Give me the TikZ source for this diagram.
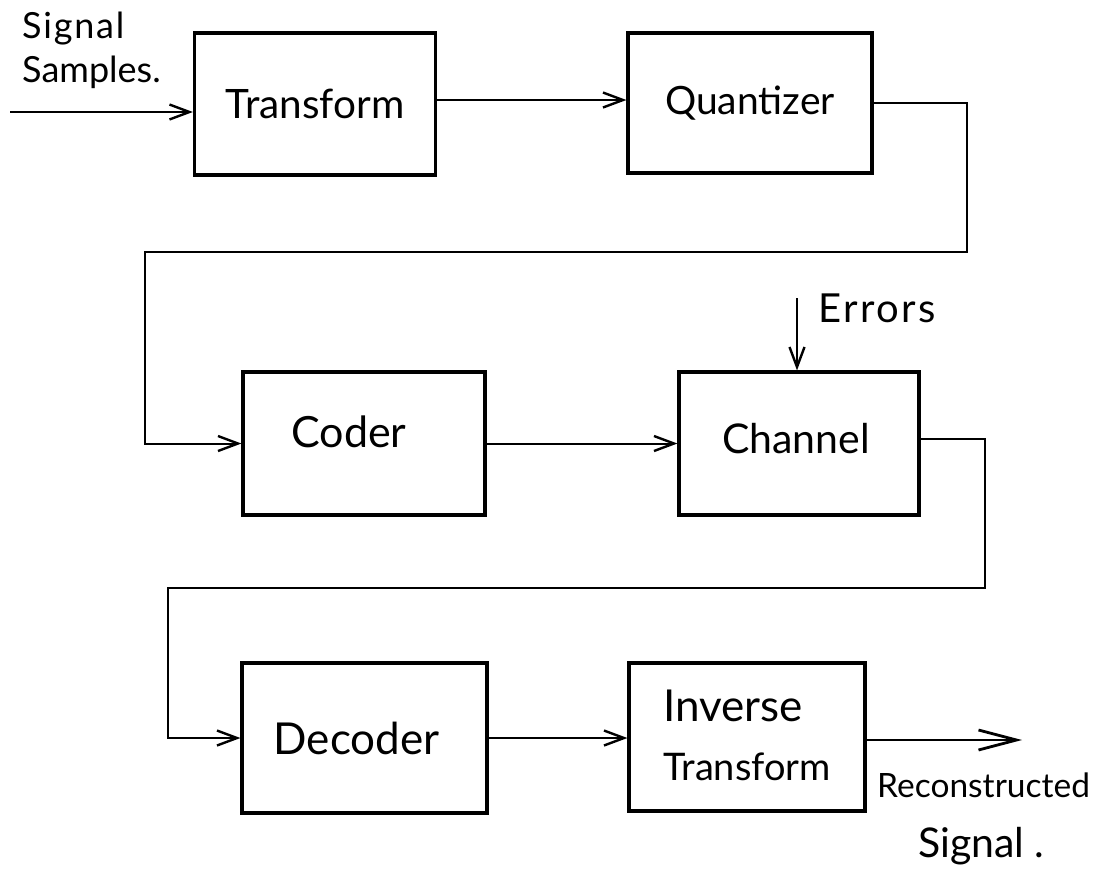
\documentclass[tikz,border=0pt]{standalone}
\usepackage{fontspec}
\setmainfont{Lato}
\usetikzlibrary{arrows.meta}
\newcommand{\fsz}[1]{\fontsize{#1}{#1}\selectfont}
\begin{document}
\begin{tikzpicture}[x=1pt,y=-1pt,
  blk/.style={draw, line width=3.2pt, inner sep=0pt},
  wire/.style={line width=2pt},
  arr/.style={wire, -{Straight Barb[length=20pt,width=15pt,line width=2.4pt]}},
  bigarr/.style={wire, -{Straight Barb[length=38pt,width=20pt,line width=2.8pt]}},
  lbl/.style={inner sep=0pt, anchor=base west}]
\useasboundingbox (0,0) rectangle (1118,876);
\fill[white] (0,0) rectangle (1118,876);

% blocks
\node[blk, minimum width=241pt, minimum height=142pt] (tr) at (315,104)
  {\fsz{40.5}Transform};
\node[blk, minimum width=244pt, minimum height=140pt] (qz) at (750,103)
  {\fsz{39}Quantizer};
\node[blk, minimum width=242pt, minimum height=143pt] (cd) at (364,443.5)
  {\raisebox{24pt}{\fsz{43}Coder}\hspace*{30pt}};
\node[blk, minimum width=240pt, minimum height=143pt] (ch) at (799,443.5)
  {\raisebox{10pt}{\fsz{41}Channel}\hspace*{6pt}};
\node[blk, minimum width=245pt, minimum height=150pt] (dc) at (364.5,738)
  {\fsz{44}Decoder\hspace*{16pt}};
\node[blk, minimum width=236pt, minimum height=148pt] (iv) at (747,737)
  {\raisebox{6pt}{\begin{tabular}{@{}l@{}}
   \fsz{44}Inverse\\[27pt]
   \fsz{38}Transform
   \end{tabular}}};

% free ends and bends
\coordinate (in)  at (10,112);
\coordinate (err) at (797,298);
\coordinate (out) at (1022,740);
\coordinate (q1)  at (967,252);
\coordinate (q2)  at (145,252);
\coordinate (h1)  at (985,588);
\coordinate (h2)  at (168,588);

% labels
\node[lbl] (sig)  at (22,38)  {\fsz{36}\addfontfeature{LetterSpace=5}Signal};
\node[lbl] (smp)  at (22,82)  {\fsz{36}Samples.};
\node[lbl] (errs) at (818,322) {\fsz{40}\addfontfeature{LetterSpace=6}Errors};
\node[lbl] (rec)  at (877,797) {\fsz{33.5}Reconstructed};
\node[lbl] (osig) at (918,857) {\fsz{41}Signal .};

% connectors
\draw[arr] (in) -- (in -| tr.west);
\draw[arr] ([yshift=4pt]tr.east) -- ([yshift=4pt]tr.east -| qz.west);
\draw[arr] (qz.east) -| (q1) -- (q2) |- (cd.west);
\draw[arr] (cd.east) -- (cd.east -| ch.west);
\draw[arr] (err) -- (err |- ch.north);
\draw[arr] ([yshift=5pt]ch.east) -| (h1) -- (h2) |- (dc.west);
\draw[arr] (dc.east) -- (dc.east -| iv.west);
\draw[bigarr] (iv.east |- out) -- (out);
\end{tikzpicture}
\end{document}
